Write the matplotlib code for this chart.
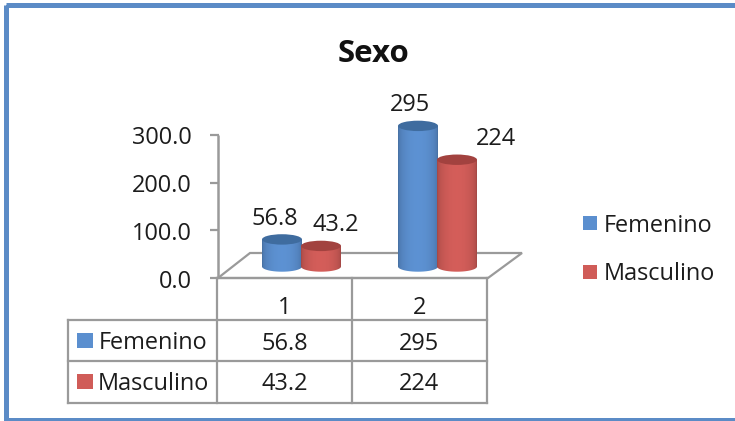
import numpy as np
import matplotlib
matplotlib.use("Agg")
import matplotlib.pyplot as plt
from matplotlib.patches import Ellipse, Polygon, Rectangle

title = "Sexo"
categories = ["1", "2"]
series_names = ["Femenino", "Masculino"]
femenino = [56.8, 295]
masculino = [43.2, 224]
y_ticks = [0.0, 100.0, 200.0, 300.0]

W, H = 735, 421
plt.rcParams["font.family"] = ["Open Sans", "DejaVu Sans"]
fig = plt.figure(figsize=(W / 100, H / 100), dpi=100)
ax = fig.add_axes([0, 0, 1, 1])
ax.set_xlim(0, W)
ax.set_ylim(H, 0)
ax.axis("off")

GRAY = "#9a9a9a"
TXT = "#1c1c1c"
FS = 16.9
DY = 2.5
PX_PER_UNIT = (278 - 135) / 300.0
BASE_Y = 266.5

# frame
ax.add_patch(Rectangle((6.5, 4.5), W, H - 4.5 - 1.5, fill=False, ec="#5b8bc6", lw=3.6, clip_on=False, zorder=1))

# title
ax.text(374, 51 + DY, title, ha="center", va="center", fontsize=22.5, fontweight="bold", color="#111111")

# axis & ticks
ax.plot([218, 218], [135, 278], color=GRAY, lw=1.8, solid_capstyle="butt", zorder=2)
for v in y_ticks:
    y = 278 - v * PX_PER_UNIT
    ax.plot([210, 219], [y, y], color=GRAY, lw=1.6, solid_capstyle="butt", zorder=2)
    ax.text(192, y + 1 + DY, f"{v:.1f}", ha="right", va="center", fontsize=FS, color=TXT)

# floor
ax.add_patch(Polygon([(218, 278), (250, 253), (522, 253), (488, 278)], closed=True, fc="white", ec=GRAY, lw=1.6, zorder=2))

# cylinders
BLUE = "#5b8fcf"
RED = "#d05c58"
BLUE_TOP = "#3f6c9f"
RED_TOP = "#a2423f"
R = 20
E = 5.2
cat_left = [262, 398]
fem_label_dx = [13, 12]
mas_label_dx = [74, 98]


def cylinder(x0, value, col, topcol, z):
    h = value * PX_PER_UNIT
    top = BASE_Y - h
    xs = np.linspace(0, 1, 60)
    rgb = np.array(matplotlib.colors.to_rgb(col))
    prof = 0.78 + 0.24 * np.sin(np.pi * xs) ** 0.45
    img = np.clip(np.outer(prof, rgb)[None, :, :], 0, 1)
    im = ax.imshow(img, extent=(x0, x0 + 2 * R, BASE_Y + E, top), aspect="auto", zorder=z, interpolation="bilinear")
    clip = Polygon(
        [(x0 + R + R * np.cos(t), BASE_Y + E * np.sin(t)) for t in np.linspace(0, np.pi, 40)]
        + [(x0, top), (x0 + 2 * R, top)],
        closed=True, transform=ax.transData,
    )
    im.set_clip_path(clip)
    ax.add_patch(Ellipse((x0 + R, top), 2 * R, 2 * E, fc=topcol, ec="none", zorder=z + 0.1))


for i, lx in enumerate(cat_left):
    cylinder(lx, femenino[i], BLUE, BLUE_TOP, 3)
    cylinder(lx + R * 2 - 1, masculino[i], RED, RED_TOP, 4)

ax.set_xlim(0, W)
ax.set_ylim(H, 0)

# data labels
for i, lx in enumerate(cat_left):
    ax.text(lx + fem_label_dx[i], BASE_Y - femenino[i] * PX_PER_UNIT - 23 + DY, f"{femenino[i]:g}",
            ha="center", va="center", fontsize=FS, color=TXT, zorder=6)
    ax.text(lx + mas_label_dx[i], BASE_Y - masculino[i] * PX_PER_UNIT - 23 + DY, f"{masculino[i]:g}",
            ha="center", va="center", fontsize=FS, color=TXT, zorder=6)

# data table
xg = [68, 217, 352, 487]
yg = [278, 320, 361, 403]
for x in xg[1:]:
    ax.plot([x, x], [yg[0], yg[-1]], color=GRAY, lw=1.6, zorder=2, solid_capstyle="projecting")
ax.plot([xg[0], xg[0]], [yg[1], yg[-1]], color=GRAY, lw=1.6, zorder=2, solid_capstyle="projecting")
ax.plot([xg[1], xg[3]], [yg[0], yg[0]], color=GRAY, lw=1.6, zorder=2)
for y in yg[1:]:
    ax.plot([xg[0], xg[3]], [y, y], color=GRAY, lw=1.6, zorder=2, solid_capstyle="projecting")

for j, cat in enumerate(categories):
    cx = (xg[j + 1] + xg[j + 2]) / 2
    ax.text(cx, 305 + DY, cat, ha="center", va="center", fontsize=FS, color=TXT)
    ax.text(cx, 341 + DY, f"{femenino[j]:g}", ha="center", va="center", fontsize=FS, color=TXT)
    ax.text(cx, 382 + DY, f"{masculino[j]:g}", ha="center", va="center", fontsize=FS, color=TXT)

for name, col, y, tx in zip(series_names, [BLUE, RED], [340.5, 381.5], [99, 98]):
    ax.add_patch(Rectangle((77, y - 7.5), 16, 15, fc=col, ec="none", zorder=3))
    ax.text(tx, y + DY, name, ha="left", va="center", fontsize=FS, color=TXT)

# legend
for name, col, y in zip(series_names, [BLUE, RED], [223, 271.5]):
    ax.add_patch(Rectangle((583, y - 7), 14, 14, fc=col, ec="none", zorder=3))
    ax.text(604, y + DY, name, ha="left", va="center", fontsize=FS, color=TXT)

fig.savefig("out.png", dpi=100)
